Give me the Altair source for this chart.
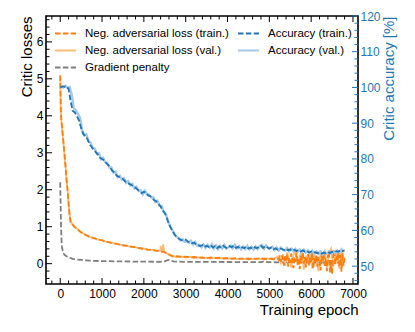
import altair as alt
import pandas as pd

FONT = "Liberation Sans"
W, H = 312, 268

# ---------------- data ----------------
series_order = [
    "Neg. adversarial loss (train.)",
    "Neg. adversarial loss (val.)",
    "Gradient penalty",
    "Accuracy (train.)",
    "Accuracy (val.)",
]
series_colors = ["#ff7f0e", "#ffbb78", "#7f7f7f", "#1f77b4", "#a6c8e8"]
series_dashes = [[5.5, 2.4], [1, 0], [5.5, 2.4], [5.5, 2.4], [1, 0]]

x_tick_labels = [0, 1000, 2000, 3000, 4000, 5000, 6000, 7000]
yl_tick_labels = [0, 1, 2, 3, 4, 5, 6]
yr_tick_labels = [50, 60, 70, 80, 90, 100, 110, 120]

# accuracy (right axis), epochs 0..6800 step 50
acc_train_epochs = list(range(0, 6801, 50))
acc_train = [
    100.0, 100.3, 100.2, 100.3, 99.6, 96.0, 93.4, 93.0, 91.9, 90.8,
    88.6, 87.0, 86.4, 85.6, 84.1, 83.4, 82.5, 81.9, 81.2, 80.3,
    80.0, 79.6, 78.8, 78.3, 77.4, 76.6, 76.2, 75.3, 75.0, 74.6,
    74.4, 73.7, 73.5, 73.0, 72.8, 72.2, 71.9, 71.4, 70.9, 70.4,
    70.8, 70.6, 69.8, 69.6, 69.0, 68.4, 68.1, 67.4, 66.7, 65.6,
    64.9, 63.4, 61.8, 60.5, 59.6, 58.6, 58.0, 57.6, 57.3, 57.1,
    57.4, 56.8, 56.9, 56.4, 56.6, 56.0, 55.8, 55.6, 55.9, 55.3,
    55.7, 55.4, 55.9, 55.2, 55.6, 55.0, 55.5, 55.1, 55.7, 55.2,
    55.0, 55.6, 55.3, 55.8, 55.1, 55.4, 54.9, 55.3, 55.0, 55.5,
    54.9, 55.2, 54.8, 55.3, 55.0, 55.4, 55.7, 55.1, 55.6, 55.3,
    54.9, 55.2, 54.7, 55.0, 54.6, 55.0, 54.8, 54.5, 54.9, 54.4,
    54.7, 54.3, 54.6, 54.2, 54.5, 54.1, 54.4, 54.0, 54.2, 53.8,
    54.1, 53.7, 53.9, 53.6, 53.9, 53.5, 53.8, 53.6, 53.9, 53.7,
    54.0, 53.8, 54.2, 54.0, 54.5, 54.2, 54.4,
]
acc_val_epochs = list(range(25, 6776, 50))
acc_val = [
    100.4, 100.0, 100.5, 99.9, 100.1, 98.0, 94.2, 93.6, 92.6, 91.5,
    88.0, 86.6, 86.9, 85.0, 84.6, 83.0, 82.9, 81.5, 81.6, 79.9,
    80.3, 79.1, 78.9, 77.6, 77.6, 76.1, 76.4, 74.9, 75.3, 74.2,
    74.6, 73.3, 73.8, 72.6, 73.0, 71.8, 72.2, 71.0, 71.2, 70.1,
    71.1, 70.1, 70.0, 69.2, 69.3, 67.9, 68.3, 66.9, 66.8, 65.1,
    64.6, 62.7, 61.2, 60.2, 59.0, 58.3, 57.9, 57.2, 57.5, 56.8,
    57.1, 56.5, 57.1, 56.1, 56.8, 55.7, 56.0, 55.3, 56.1, 55.1,
    55.9, 55.2, 56.1, 54.9, 55.8, 54.8, 55.7, 54.9, 55.9, 54.9,
    55.3, 55.8, 55.0, 56.0, 54.9, 55.6, 54.7, 55.5, 54.8, 55.7,
    54.7, 55.4, 54.6, 55.5, 54.8, 55.7, 55.9, 54.9, 55.8, 55.0,
    55.1, 55.4, 54.5, 55.2, 54.4, 55.2, 54.6, 54.3, 55.1, 54.2,
    54.9, 54.1, 54.8, 54.0, 54.7, 53.9, 54.6, 53.8, 54.4, 53.6,
    54.3, 53.5, 54.1, 53.4, 54.1, 53.3, 54.0, 53.4, 54.1, 53.5,
    54.2, 53.6, 54.4, 53.8, 54.7, 54.0,
]

# losses (left axis)
loss_early_epochs = [0, 10, 20, 30, 40, 75, 100, 125, 150, 175, 200, 225, 250,
                     300, 350, 400, 500, 600, 700, 800, 900]
loss_mid_epochs = list(range(1000, 5101, 100))
loss_tail_epochs = list(range(5200, 6801, 25))

loss_train_early = [5.1, 4.4, 4.0, 3.85, 3.75, 3.3, 3.0, 2.65, 2.3, 2.0, 1.65,
                    1.3, 1.12, 1.05, 0.99, 0.94, 0.85, 0.78, 0.73, 0.69, 0.66]
loss_train_mid = [
    0.63, 0.60, 0.57, 0.55, 0.52, 0.50, 0.48, 0.46, 0.44, 0.42,
    0.40, 0.38, 0.37, 0.35, 0.34, 0.31, 0.25, 0.19, 0.20, 0.18,
    0.19, 0.17, 0.18, 0.16, 0.17, 0.15, 0.17, 0.15, 0.16, 0.14,
    0.15, 0.13, 0.15, 0.13, 0.14, 0.12, 0.14, 0.13, 0.15, 0.12,
    0.14, 0.12,
]
loss_train_tail = [
    0.14, 0.10, 0.18, 0.05, 0.22, 0.12, -0.05, 0.20, 0.08, 0.25,
    -0.08, 0.15, 0.02, 0.28, 0.10, -0.12, 0.18, 0.05, 0.30, -0.02,
    0.15, -0.15, 0.22, 0.08, 0.32, 0.00, 0.18, -0.10, 0.12, 0.26,
    -0.05, 0.20, 0.05, 0.30, -0.14, 0.15, 0.02, 0.24, -0.08, 0.18,
    0.08, -0.18, 0.22, 0.05, 0.28, -0.06, 0.16, -0.20, 0.20, 0.34,
    -0.24, 0.10, -0.28, 0.18, 0.36, -0.04, 0.22, 0.06, 0.30, -0.10,
    0.24, -0.22, 0.30, -0.05, 0.18,
]

loss_val_early = [5.05, 4.45, 3.95, 3.85, 3.7, 3.3, 2.95, 2.65, 2.25, 2.0, 1.6,
                  1.3, 1.14, 1.06, 0.98, 0.95, 0.84, 0.79, 0.72, 0.69, 0.65]
loss_val_mid = [
    0.64, 0.59, 0.58, 0.54, 0.53, 0.49, 0.48, 0.45, 0.45, 0.41,
    0.41, 0.37, 0.38, 0.34, 0.35, 0.30, 0.24, 0.20, 0.18, 0.19,
    0.17, 0.18, 0.16, 0.17, 0.15, 0.16, 0.14, 0.16, 0.14, 0.15,
    0.13, 0.15, 0.12, 0.14, 0.13, 0.15, 0.12, 0.14, 0.12, 0.15,
    0.13, 0.14,
]
loss_val_spike_epochs = [2370, 2400, 2430, 2460, 2490]
loss_val_spike = [0.36, 0.48, 0.30, 0.52, 0.33]
loss_val_tail_epochs = list(range(5225, 6776, 50))
loss_val_tail = [
    0.20, 0.02, 0.26, -0.06, 0.30, 0.10, -0.10, 0.24, 0.34, -0.04,
    0.18, 0.36, -0.16, 0.22, 0.05, 0.32, -0.12, 0.26, 0.12, -0.20,
    0.30, 0.04, 0.38, -0.18, 0.28, 0.40, -0.08, 0.20, 0.36, -0.14,
    0.32, 0.06,
]

gp_epochs = [0, 10, 20, 30, 40, 60, 80, 100, 150, 200, 250, 300, 400, 500, 700,
             1000, 1500, 2000, 2400, 2500, 2550, 2600, 2650, 2700, 3000, 4000,
             4800, 4900, 4950, 5500, 6000, 6800]
gp_values = [2.2, 1.6, 1.0, 0.65, 0.46, 0.35, 0.28, 0.24, 0.2, 0.17, 0.15, 0.13,
             0.11, 0.10, 0.08, 0.07, 0.06, 0.055, 0.05, 0.06, 0.09, 0.10, 0.08,
             0.06, 0.05, 0.045, 0.04, 0.07, 0.04, 0.035, 0.03, 0.03]

assert len(acc_train) == len(acc_train_epochs)
assert len(acc_val) == len(acc_val_epochs)
assert len(loss_train_early) == len(loss_early_epochs) == len(loss_val_early)
assert len(loss_train_mid) == len(loss_mid_epochs) == len(loss_val_mid)
assert len(loss_train_tail) == len(loss_tail_epochs)
assert len(loss_val_tail) == len(loss_val_tail_epochs)
assert len(gp_values) == len(gp_epochs)


def frame(epochs, values, name):
    return pd.DataFrame({"epoch": epochs, "value": values, "series": name})


df_loss_train = frame(loss_early_epochs + loss_mid_epochs + loss_tail_epochs,
                      loss_train_early + loss_train_mid + loss_train_tail,
                      series_order[0])
df_loss_val = frame(loss_early_epochs + loss_mid_epochs + loss_val_spike_epochs + loss_val_tail_epochs,
                    loss_val_early + loss_val_mid + loss_val_spike + loss_val_tail,
                    series_order[1])
df_gp = frame(gp_epochs, gp_values, series_order[2])
df_acc_train = frame(acc_train_epochs, acc_train, series_order[3])
df_acc_val = frame(acc_val_epochs, acc_val, series_order[4])

# ---------------- scales / guides ----------------
x_scale = alt.Scale(domain=[-340, 7120], nice=False, zero=False)
yl_scale = alt.Scale(domain=[-0.55, 6.7], nice=False, zero=False)
yr_scale = alt.Scale(domain=[45, 120], nice=False, zero=False)
color_scale = alt.Scale(domain=series_order, range=series_colors)
dash_scale = alt.Scale(domain=series_order, range=series_dashes)

legend = alt.Legend(
    title=None, orient="none", legendX=8, legendY=6, columns=2, direction="vertical",
    columnPadding=5, rowPadding=-2.5, padding=0, symbolType="stroke", symbolSize=441,
    symbolStrokeWidth=1.8, labelFont=FONT, labelFontSize=11.5, labelOffset=8,
    labelLimit=400, labelColor="black",
)

x_axis = alt.Axis(
    values=x_tick_labels, format="d", ticks=False, domain=False, grid=False,
    labelFont=FONT, labelFontSize=12, labelColor="black", labelPadding=4,
    labelFlush=False, title="Training epoch", titleFont=FONT, titleFontSize=15,
    titleFontWeight="normal", titleAnchor="end", titlePadding=3, titleColor="black",
)
yl_axis = alt.Axis(
    values=yl_tick_labels, format="d", ticks=False, domain=False, grid=False,
    labelFont=FONT, labelFontSize=12, labelColor="black", labelPadding=3,
    labelFlush=False, title="Critic losses", titleFont=FONT, titleFontSize=15,
    titleFontWeight="normal", titleAnchor="end", titlePadding=2, titleColor="black",
)
yr_axis = alt.Axis(
    orient="right", values=yr_tick_labels, format="d", ticks=False, domain=False,
    grid=False, labelFont=FONT, labelFontSize=12, labelColor="#1f77b4", labelPadding=2,
    labelFlush=False, title="Critic accuracy [%]", titleFont=FONT, titleFontSize=15,
    titleFontWeight="normal", titleAnchor="end", titleAngle=270, titleBaseline="top",
    titlePadding=1, titleColor="#1f77b4",
)


def line(df, y_scale, y_axis, width):
    return alt.Chart(df).mark_line(strokeWidth=width, clip=True).encode(
        x=alt.X("epoch:Q", scale=x_scale, axis=x_axis),
        y=alt.Y("value:Q", scale=y_scale, axis=y_axis),
        color=alt.Color("series:N", scale=color_scale, legend=legend),
        strokeDash=alt.StrokeDash("series:N", scale=dash_scale, legend=legend),
    )


# tick marks (inward, on all sides)
x_minor = [v for v in range(-200, 7001, 200) if v % 1000 != 0]
yl_minor = [round(-0.4 + 0.2 * i, 1) for i in range(36) if round((-0.4 + 0.2 * i) * 5) % 5 != 0]
yr_minor = [v for v in range(46, 120, 2) if v % 10 != 0]


def xticks(vals, length):
    d = pd.DataFrame({"t": vals})
    bot = alt.Chart(d).mark_rule(color="black", strokeWidth=1).encode(
        x=alt.X("t:Q", scale=x_scale, axis=x_axis), y=alt.value(H), y2=alt.value(H - length))
    top = alt.Chart(d).mark_rule(color="black", strokeWidth=1).encode(
        x=alt.X("t:Q", scale=x_scale, axis=x_axis), y=alt.value(0), y2=alt.value(length))
    return [bot, top]


def yticks(vals, length, scale, axis, right, color):
    d = pd.DataFrame({"t": vals})
    if right:
        xa, xb = W - length, W
    else:
        xa, xb = 0, length
    return alt.Chart(d).mark_rule(color=color, strokeWidth=1).encode(
        y=alt.Y("t:Q", scale=scale, axis=axis), x=alt.value(xa), x2=alt.value(xb))


left = alt.layer(
    line(df_gp, yl_scale, yl_axis, 1.8),
    line(df_loss_val, yl_scale, yl_axis, 1.8),
    line(df_loss_train, yl_scale, yl_axis, 1.8),
    yticks(yl_tick_labels, 6, yl_scale, yl_axis, False, "black"),
    yticks(yl_minor, 3.5, yl_scale, yl_axis, False, "black"),
    *xticks(x_tick_labels, 6),
    *xticks(x_minor, 3.5),
)
right = alt.layer(
    line(df_acc_val, yr_scale, yr_axis, 2.4),
    line(df_acc_train, yr_scale, yr_axis, 1.8),
    yticks(yr_tick_labels, 6, yr_scale, yr_axis, True, "#1f77b4"),
    yticks(yr_minor, 3.5, yr_scale, yr_axis, True, "#1f77b4"),
)

chart = (
    alt.layer(left, right)
    .resolve_scale(y="independent")
    .properties(
        width=W, height=H,
        autosize=alt.AutoSizeParams(type="none"),
        padding={"left": 38, "top": 8, "right": 49, "bottom": 36},
        background="white",
    )
    .configure_view(stroke="black", strokeWidth=1.6)
)

chart.save("out.html", embed_options={"renderer": "svg", "actions": False})
